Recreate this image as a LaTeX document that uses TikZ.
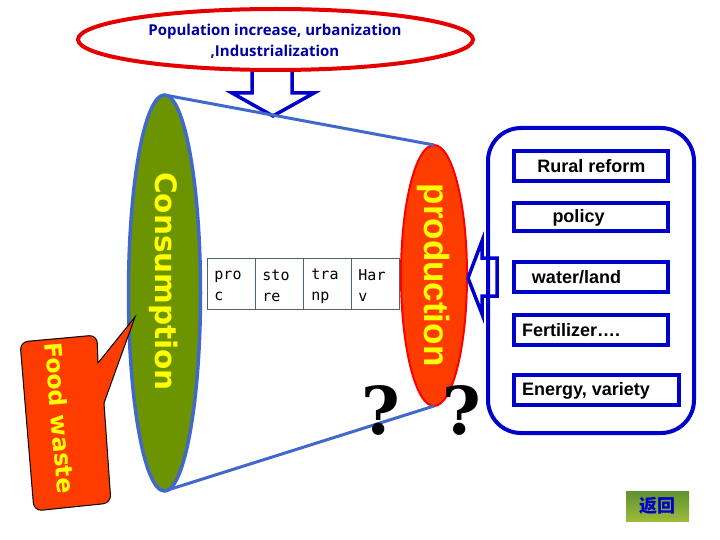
\documentclass[tikz,border=0pt]{standalone}
\usepackage{fontspec}
\setmainfont{Liberation Sans}
\newfontfamily\headfont{Open Sans}
\newfontfamily\wideb{DejaVu Sans}
\newfontfamily\monof{DejaVu Sans Mono}
\newfontfamily\qfont{DejaVu Serif}
\newfontfamily\cjkf{Noto Sans CJK SC}
\usetikzlibrary{shapes.geometric}
\definecolor{rimblue}{HTML}{4169CC}
\definecolor{leaf}{HTML}{6B9400}
\definecolor{hot}{HTML}{FF3C00}
\definecolor{ink}{HTML}{0000CC}
\definecolor{navy}{HTML}{0000A0}
\definecolor{sun}{HTML}{FFFF00}
\definecolor{tabline}{HTML}{51626F}
\definecolor{btntop}{HTML}{5E9130}
\definecolor{btnbot}{HTML}{9DBB3A}
\tikzset{
  oval/.style={ellipse,inner sep=0pt,outer sep=0pt},
  factor/.style={draw=ink,line width=4pt,fill=white,inner sep=0pt,outer sep=0pt,anchor=north west},
  factortext/.style={font=\bfseries\fontsize{18}{20}\selectfont,inner sep=0pt,text=black},
  cell/.style={draw=tabline,line width=1pt,fill=white,minimum width=48pt,minimum height=51pt,inner sep=0pt,outer sep=0pt},
  celltext/.style={font=\monof\fontsize{15}{21}\selectfont,align=left,inner sep=0pt},
  fat/.style={draw=ink,line width=3.5pt,fill=white,line join=miter},
  rim/.style={draw=rimblue,line width=3.5pt},
  qmark/.style={font=\qfont\bfseries\fontsize{66}{66}\selectfont,inner sep=0pt,text=black},
}
\begin{document}
\begin{tikzpicture}[x=1pt,y=-1pt]
\useasboundingbox (0,0) rectangle (720,540);
% arrows under the ovals
\draw[fat] (252,70) -- (252,93) -- (232,93) -- (273,116) -- (314,93) -- (292,93) -- (292,70);
\node[oval,draw=red!90!black,line width=4pt,fill=white,minimum width=395pt,minimum height=61pt] (driver) at (275.5,39.5) {};
\node[font=\headfont\bfseries\fontsize{15}{21}\selectfont,text=navy,align=center,inner sep=0pt] (drivertext) at (275,41) {Population increase, urbanization\\,Industrialization};
% table
\node[cell] (c1) at (231,283.5) {};
\node[cell] (c2) at (279,283.5) {};
\node[cell] (c3) at (327,283.5) {};
\node[cell] (c4) at (375,283.5) {};
\node[celltext] (t1) at (228,286) {pro\\c\phantom{ro}};
\node[celltext] (t2) at (276,286) {sto\\re\phantom{o}};
\node[celltext] (t3) at (325,286) {tra\\np\phantom{a}};
\node[celltext] (t4) at (372,286) {Har\\v\phantom{ar}};
% ovals
\node[oval,rim,fill=leaf,minimum width=72pt,minimum height=396pt] (cons) at (164.5,293) {};
\node[oval,draw=red,line width=2pt,fill=hot,minimum width=66pt,minimum height=261pt] (prod) at (434,275.5) {};
\draw[rim,line width=3pt] (cons.north) -- (prod.north);
\draw[rim,line width=3pt] (cons.south) -- (prod.south);
\node[rotate=-90,text=sun,font=\wideb\bfseries\fontsize{29.5}{30}\selectfont,inner sep=0pt] (constext) at (163.5,281.5) {Consumption};
\node[rotate=-90,text=sun,font=\bfseries\fontsize{35}{35}\selectfont,inner sep=0pt] (prodtext) at (433.5,275) {production};
% callout
\draw[fill=hot,draw=black,line width=1pt,rounded corners=8pt]
  (20,342) -- (97,335) [sharp corners] -- (98,363) -- (135,317) -- (104,403) [rounded corners=8pt] -- (111,503) -- (34,511) -- cycle;
\node[rotate=-85,text=sun,font=\wideb\bfseries\fontsize{23.5}{24}\selectfont,inner sep=0pt] (wastetext) at (60,418) {Food waste};
% question marks
\node[qmark] (q1) at (381,410) {?};
\node[qmark] (q2) at (462,410) {?};
% right side
\draw[fat] (497,258) -- (482,258) -- (482,241) -- (468,278) -- (482,314) -- (482,296) -- (497,296) -- cycle;
\node[draw=ink,line width=4pt,rounded corners=33pt,minimum width=206pt,minimum height=305pt,inner sep=0pt,outer sep=0pt] (panel) at (591,280.5) {};
\node[factor,minimum width=154pt,minimum height=30pt] (b1) at (514,151) {};
\node[factor,minimum width=154pt,minimum height=28pt] (b2) at (514,203) {};
\node[factor,minimum width=154pt,minimum height=30pt] (b3) at (514,262) {};
\node[factor,minimum width=154pt,minimum height=30pt] (b4) at (514,315) {};
\node[factor,minimum width=165pt,minimum height=30pt] (b5) at (514,375) {};
\node[factortext] (l1) at (591.5,166.5) {Rural reform};
\node[factortext] (l2) at (578.5,218) {policy};
\node[factortext] (l3) at (576.5,277) {water/land};
\node[factortext,anchor=west] (l4) at (522,330) {Fertilizer….};
\node[factortext,anchor=west] (l5) at (522,391) {Energy, variety};
% back button
\node[minimum width=63pt,minimum height=30pt,inner sep=0pt,top color=btntop,bottom color=btnbot,text=ink,font=\cjkf\bfseries\fontsize{18}{18}\selectfont] (back) at (657.5,506) {返回};
\end{tikzpicture}
\end{document}
